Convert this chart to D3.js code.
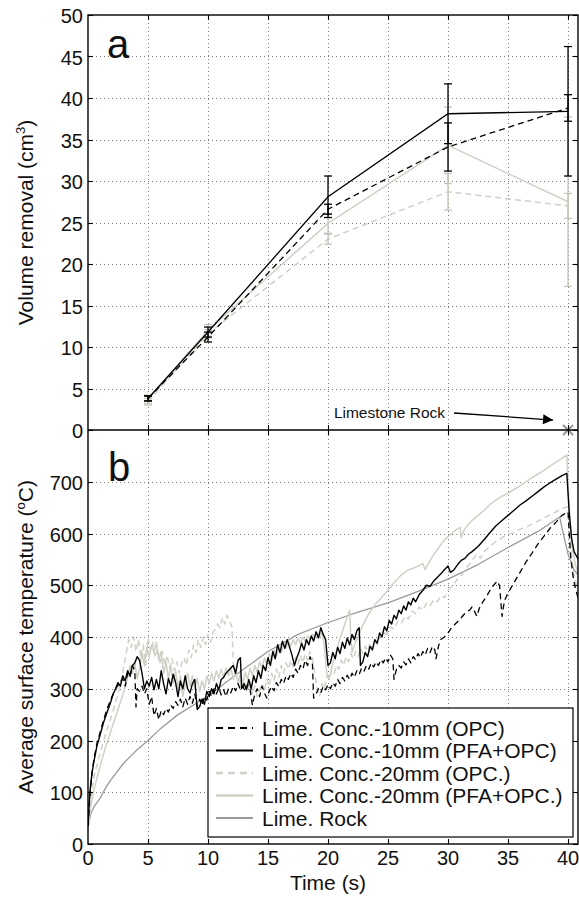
<!DOCTYPE html>
<html>
<head>
<meta charset="utf-8">
<script src="https://cdn.jsdelivr.net/npm/d3@7/dist/d3.min.js"></script>
<style>
    body { margin: 0; background: #fff; }
    svg text { font-family: "Liberation Sans", Arial, Helvetica, sans-serif; fill: #111; }
</style>
</head>
<body>
<div id="chart"></div>
<script>
    // ---- panel a : volume removal at the sampled times ----
    var timesA = [5, 10, 20, 30, 40];
    var volOPC10 = [3.8, 11.2, 26.6, 34.1, 38.8];
    var errOPC10 = [0.3, 0.6, 0.6, 2.9, 1.6];
    var volPFA10 = [3.8, 11.8, 28.1, 38.1, 38.4];
    var errPFA10 = [0.3, 0.6, 2.5, 3.6, 7.8];
    var volOPC20 = [3.4, 11.6, 23.0, 28.7, 27.0];
    var errOPC20 = [0.4, 0.5, 0.6, 2.2, 1.5];
    var volPFA20 = [3.7, 12.0, 24.9, 34.3, 27.5];
    var errPFA20 = [0.5, 0.7, 1.2, 4.6, 10.2];
    var rockPoint = [40, 0];

    // ---- panel b : surface temperature traces [time, temp] ----
    var tempOPC10 = [[0,35],[0.15,90],[0.3,130],[0.5,165],[0.75,195],[1,215],[1.3,240],[1.6,262],[2,285],[2.3,300],[2.6,310],[2.9,320],
        [3.1,305],[3.3,330],[3.5,322],[3.7,345],[3.9,335],[4.0,265],[4.1,300],[4.3,295],[4.5,305],[4.7,290],[4.9,300],[5.1,270],[5.3,285],
        [5.5,248],[5.7,262],[5.9,240],[6.1,258],[6.3,250],[6.5,262],[6.7,255],[6.9,268],[7.1,262],[7.3,275],[7.5,268],[7.7,280],[7.9,265],
        [8.1,282],[8.3,270],[8.5,285],[8.7,272],[8.9,290],[9.1,265],[9.3,280],[9.5,268],[9.7,285],[9.9,278],[10.1,295],[10.3,285],[10.5,300],
        [10.7,290],[10.9,302],[11.1,288],[11.3,298],[11.5,285],[11.7,300],[11.9,292],[12.1,305],[12.3,296],[12.5,310],[12.7,298],[12.9,305],
        [13.1,295],[13.3,308],[13.5,300],[13.7,268],[13.9,290],[14.1,300],[14.3,285],[14.5,305],[14.7,292],[14.9,282],[15.1,295],[15.3,305],
        [15.5,296],[15.7,312],[15.9,304],[16.1,318],[16.3,310],[16.5,325],[16.7,318],[16.9,330],[17.1,322],[17.3,338],[17.5,330],[17.7,345],
        [17.9,338],[18.1,355],[18.3,345],[18.5,362],[18.7,350],[18.8,282],[19.0,290],[19.2,300],[19.4,292],[19.6,305],[19.8,298],[20.0,308],
        [20.2,300],[20.4,312],[20.6,305],[20.8,318],[21.0,310],[21.2,322],[21.4,315],[21.6,326],[21.8,318],[22.0,330],[22.2,322],[22.4,335],
        [22.6,328],[22.8,340],[23.0,334],[23.2,345],[23.4,338],[23.6,350],[23.8,342],[24.0,352],[24.2,345],[24.4,356],[24.6,350],[24.8,360],
        [25.0,352],[25.2,365],[25.4,358],[25.5,318],[25.7,338],[25.9,345],[26.1,340],[26.3,352],[26.5,346],[26.7,358],[26.9,350],[27.1,362],
        [27.3,356],[27.5,368],[27.7,360],[27.9,372],[28.1,365],[28.3,378],[28.5,370],[28.7,382],[28.9,375],[29.0,358],[29.2,382],[29.4,395],
        [29.7,400],[30.0,408],[30.3,418],[30.6,425],[30.9,432],[31.2,440],[31.5,448],[31.8,452],[32.0,458],[32.2,450],[32.4,440],[32.6,455],
        [32.9,468],[33.2,478],[33.5,490],[33.8,500],[34.1,508],[34.3,498],[34.5,440],[34.7,470],[35.0,485],[35.5,505],[36,525],[36.5,545],
        [37,562],[37.5,580],[38,595],[38.5,610],[39,622],[39.5,635],[40,642],[40.2,560],[40.4,520],[40.6,495],[40.9,470]];

    var tempPFA10 = [[0,35],[0.1,80],[0.2,110],[0.35,140],[0.5,160],[0.75,190],[1,210],[1.3,235],[1.6,255],[1.9,275],[2.1,290],[2.3,300],
        [2.5,312],[2.7,305],[2.9,325],[3.1,315],[3.3,335],[3.5,325],[3.7,345],[3.9,350],[4.1,362],[4.3,355],[4.5,330],[4.7,300],[4.9,315],
        [5.1,305],[5.3,322],[5.5,298],[5.7,318],[5.9,300],[6.1,335],[6.3,310],[6.5,290],[6.7,320],[6.9,305],[7.1,328],[7.3,312],[7.5,285],
        [7.7,315],[7.9,300],[8.1,325],[8.3,300],[8.5,292],[8.7,310],[8.9,318],[9.1,260],[9.3,265],[9.5,280],[9.7,270],[9.9,295],[10.1,285],
        [10.3,300],[10.5,290],[10.7,310],[10.9,298],[11.1,318],[11.3,322],[11.5,330],[11.7,335],[11.9,340],[12.1,345],[12.3,330],[12.5,355],
        [12.7,360],[12.8,300],[13.0,310],[13.2,298],[13.4,318],[13.6,300],[13.8,325],[14.0,312],[14.2,335],[14.4,320],[14.6,345],[14.8,335],
        [15.0,360],[15.2,345],[15.4,372],[15.6,358],[15.8,385],[16.0,370],[16.2,392],[16.4,378],[16.6,395],[16.8,380],[17.0,365],[17.2,345],
        [17.4,360],[17.6,372],[17.8,388],[18.0,375],[18.2,395],[18.4,385],[18.6,402],[18.8,392],[19.0,410],[19.2,398],[19.4,418],[19.6,405],
        [19.8,395],[20.0,345],[20.2,350],[20.4,370],[20.6,358],[20.8,380],[21.0,368],[21.2,390],[21.4,378],[21.6,398],[21.8,385],[22.0,405],
        [22.2,395],[22.4,412],[22.6,418],[22.7,345],[22.9,352],[23.1,370],[23.3,362],[23.5,382],[23.7,375],[23.9,395],[24.1,388],[24.3,408],
        [24.5,400],[24.7,420],[24.9,412],[25.1,432],[25.3,425],[25.5,442],[25.7,435],[25.9,452],[26.1,445],[26.3,460],[26.5,452],[26.7,468],
        [26.9,462],[27.1,475],[27.3,468],[27.6,482],[27.9,490],[28.2,500],[28.5,498],[28.8,508],[29.1,515],[29.4,522],[29.7,530],[30.0,537],
        [30.2,525],[30.5,530],[30.8,540],[31.1,548],[31.4,552],[31.7,560],[32,565],[32.5,575],[33,588],[33.5,602],[34,615],[34.5,625],
        [35,635],[35.5,645],[36,655],[36.5,663],[37,672],[37.5,681],[38,690],[38.5,698],[39,705],[39.5,712],[39.9,716],[40.1,640],[40.3,590],
        [40.5,565],[40.9,548]];

    var tempOPC20 = [[0,30],[0.2,85],[0.5,130],[1,175],[1.5,215],[2,250],[2.5,290],[2.8,320],[3.0,345],[3.2,370],[3.4,395],[3.6,380],
        [3.8,400],[4.0,372],[4.2,395],[4.4,360],[4.6,385],[4.8,345],[5.0,400],[5.2,375],[5.4,390],[5.6,360],[5.8,378],[6.0,350],[6.2,372],
        [6.4,345],[6.6,365],[6.8,340],[7.0,358],[7.2,335],[7.4,352],[7.6,330],[7.8,348],[8.0,360],[8.2,345],[8.4,375],[8.6,360],[8.8,385],
        [9.0,370],[9.2,395],[9.4,380],[9.6,400],[9.8,385],[10.0,405],[10.2,390],[10.4,408],[10.6,415],[10.8,425],[11.0,418],[11.2,438],
        [11.4,425],[11.6,442],[11.8,430],[12.0,420],[12.1,350],[12.3,330],[12.5,310],[12.7,320],[12.9,300],[13.1,315],[13.3,295],[13.5,310],
        [13.7,290],[13.9,305],[14.1,285],[14.3,300],[14.5,310],[14.7,295],[14.9,320],[15.1,305],[15.3,330],[15.5,315],[15.7,338],[15.9,322],
        [16.1,345],[16.3,330],[16.5,350],[16.7,338],[16.9,355],[17.1,342],[17.3,360],[17.5,348],[17.7,365],[17.9,350],[18.1,368],[18.3,355],
        [18.5,372],[18.7,360],[18.9,330],[19.1,300],[19.3,285],[19.5,310],[19.7,300],[19.9,325],[20.1,318],[20.3,335],[20.5,328],[20.7,345],
        [20.9,338],[21.1,355],[21.3,345],[21.5,362],[21.7,352],[21.9,368],[22.1,358],[22.3,372],[22.5,362],[22.7,378],[22.9,368],[23.1,382],
        [23.3,372],[23.5,388],[23.7,378],[23.9,392],[24.1,385],[24.3,400],[24.6,410],[24.9,405],[25.2,420],[25.5,415],[25.8,430],[26.1,425],
        [26.4,440],[26.7,435],[27.0,450],[27.3,445],[27.6,458],[27.9,452],[28.2,465],[28.5,460],[28.8,472],[29.1,468],[29.4,480],[29.7,476],
        [30.0,490],[30.4,500],[30.8,512],[31.2,522],[31.6,535],[32,548],[32.4,560],[32.7,552],[33,565],[33.5,575],[34,585],[34.5,592],
        [35,598],[35.5,602],[36,608],[36.5,612],[37,618],[37.5,624],[38,630],[38.5,636],[39,642],[39.5,648],[40,652],[40.2,580],[40.4,530],
        [40.7,500],[40.9,490]];

    var tempPFA20 = [[0,28],[0.2,70],[0.5,105],[1,150],[1.5,190],[2,225],[2.5,260],[3,295],[3.3,320],[3.5,345],[3.7,330],[3.9,350],
        [4.1,320],[4.3,340],[4.5,370],[4.7,345],[4.9,380],[5.1,360],[5.3,385],[5.5,370],[5.7,390],[5.9,355],[6.1,372],[6.3,330],[6.5,350],
        [6.7,320],[6.9,345],[7.1,310],[7.3,335],[7.5,300],[7.7,325],[7.9,285],[8.1,310],[8.3,330],[8.5,305],[8.7,325],[8.9,300],[9.1,320],
        [9.3,295],[9.5,315],[9.7,300],[9.9,325],[10.1,310],[10.3,330],[10.5,315],[10.7,335],[10.9,320],[11.1,338],[11.3,322],[11.5,340],
        [11.7,325],[11.9,342],[12.1,318],[12.3,335],[12.5,312],[12.7,330],[12.9,310],[13.1,332],[13.3,318],[13.5,340],[13.7,325],[13.9,345],
        [14.1,332],[14.3,352],[14.5,340],[14.7,360],[14.9,348],[15.1,368],[15.3,355],[15.5,375],[15.7,362],[15.9,380],[16.1,370],[16.3,388],
        [16.5,378],[16.7,392],[16.9,382],[17.1,395],[17.3,385],[17.5,398],[17.7,388],[17.9,400],[18.1,392],[18.3,402],[18.5,395],[18.7,405],
        [18.9,398],[19.1,408],[19.3,400],[19.5,410],[19.7,380],[19.9,330],[20.1,318],[20.3,340],[20.6,365],[20.9,390],[21.2,410],[21.5,432],
        [21.8,452],[21.9,400],[22.0,370],[22.2,385],[22.5,400],[22.8,418],[23.1,432],[23.4,445],[23.7,455],[24.0,465],[24.3,472],[24.6,480],
        [24.9,488],[25.2,496],[25.5,505],[25.8,512],[26.1,520],[26.4,525],[26.7,530],[27.0,532],[27.3,535],[27.6,538],[27.9,542],[28.1,530],
        [28.3,540],[28.6,552],[28.9,562],[29.2,572],[29.5,582],[29.8,590],[30.1,596],[30.4,602],[30.7,608],[31.0,612],[31.1,592],[31.3,605],
        [31.6,615],[32,625],[32.5,635],[33,645],[33.5,656],[34,665],[34.5,672],[35,678],[35.5,685],[36,692],[36.5,700],[37,708],[37.5,715],
        [38,722],[38.5,730],[39,738],[39.5,745],[39.9,752],[40.1,650],[40.3,580],[40.6,540],[40.9,520]];

    var tempRock = [[0,33],[0.25,60],[0.5,72],[1,88],[1.5,110],[2,127],[3,157],[4,180],[5,200],[6,222],[7.5,250],[10,286],[12.5,330],
        [15,372],[17.5,405],[20,428],[22.5,448],[25,466],[27.5,488],[30,512],[32.5,540],[35,573],[37.5,604],[39.3,632],[39.6,600],[40,560],
        [40.5,530],[40.9,518]];

    // ---- ticks, labels, legend ----
    var timeTicks = [0, 5, 10, 15, 20, 25, 30, 35, 40];
    var volTicks = [0, 5, 10, 15, 20, 25, 30, 35, 40, 45, 50];
    var tempTicks = [0, 100, 200, 300, 400, 500, 600, 700];
    var legendLabels = ['Lime. Conc.-10mm (OPC)', 'Lime. Conc.-10mm (PFA+OPC)', 'Lime. Conc.-20mm (OPC.)',
        'Lime. Conc.-20mm (PFA+OPC.)', 'Lime. Rock'];

    var black = '#000';
    var pale = '#d0d0c6';
    var rockGrey = '#9a9a9a';

    drawChart();

    function drawChart() {
        var svg = d3.select('#chart').append('svg')
            .attr('width', 579)
            .attr('height', 898);

        var x = d3.scaleLinear().domain([0, 40.83]).range([88, 578]);
        var yA = d3.scaleLinear().domain([0, 50]).range([430, 15]);
        var yB = d3.scaleLinear().domain([0, 800]).range([844, 430]);

        svg.append('defs').append('clipPath').attr('id', 'clipB')
            .append('rect').attr('x', 88).attr('y', 430).attr('width', 490).attr('height', 414);
        svg.select('defs').append('marker')
            .attr('id', 'arrow').attr('viewBox', '0 0 10 10')
            .attr('refX', 10).attr('refY', 5)
            .attr('markerWidth', 13).attr('markerHeight', 10)
            .attr('markerUnits', 'userSpaceOnUse')
            .attr('orient', 'auto')
            .append('path').attr('d', 'M0,0L10,5L0,10Z').attr('fill', black);

        // grid lines (dotted, matlab style)
        var grid = svg.append('g').attr('stroke', '#7a7a7a').attr('stroke-width', 1).attr('stroke-dasharray', '1,3');
        grid.selectAll('.gxa').data(timeTicks.slice(1)).enter().append('line')
            .attr('x1', function (d) { return Math.round(x(d)) + 0.5; })
            .attr('x2', function (d) { return Math.round(x(d)) + 0.5; })
            .attr('y1', 15).attr('y2', 844);
        grid.selectAll('.gya').data(volTicks.slice(1, -1)).enter().append('line')
            .attr('x1', 88).attr('x2', 578)
            .attr('y1', function (d) { return Math.round(yA(d)) + 0.5; })
            .attr('y2', function (d) { return Math.round(yA(d)) + 0.5; });
        grid.selectAll('.gyb').data(tempTicks.slice(1)).enter().append('line')
            .attr('x1', 88).attr('x2', 578)
            .attr('y1', function (d) { return Math.round(yB(d)) + 0.5; })
            .attr('y2', function (d) { return Math.round(yB(d)) + 0.5; });

        // ---- panel a ----
        var seriesA = [
            {v: volOPC20, e: errOPC20, color: pale, dash: '6,4', w: 1.5},
            {v: volPFA20, e: errPFA20, color: pale, dash: null, w: 1.5},
            {v: volOPC10, e: errOPC10, color: black, dash: '6,4', w: 1.3},
            {v: volPFA10, e: errPFA10, color: black, dash: null, w: 1.3}
        ];
        var lineA = d3.line()
            .x(function (d, i) { return x(timesA[i]); })
            .y(function (d) { return yA(d); });

        seriesA.forEach(function (s) {
            svg.append('path').datum(s.v)
                .attr('d', lineA)
                .attr('fill', 'none')
                .attr('stroke', s.color)
                .attr('stroke-width', s.w)
                .attr('stroke-dasharray', s.dash);

            var eb = svg.append('g').attr('stroke', s.color === black ? black : '#c4c4ba').attr('stroke-width', 1.3);
            s.v.forEach(function (v, i) {
                var cx = x(timesA[i]);
                eb.append('line').attr('x1', cx).attr('x2', cx)
                    .attr('y1', yA(v - s.e[i])).attr('y2', yA(v + s.e[i]));
                [v - s.e[i], v + s.e[i]].forEach(function (c) {
                    eb.append('line').attr('x1', cx - 4).attr('x2', cx + 4)
                        .attr('y1', yA(c)).attr('y2', yA(c));
                });
            });
        });

        // limestone rock marker and annotation
        var rx = x(rockPoint[0]), ry = yA(rockPoint[1]);
        svg.append('path')
            .attr('d', 'M' + (rx - 5) + ',' + (ry - 5) + 'L' + (rx + 5) + ',' + (ry + 5) +
                'M' + (rx - 5) + ',' + (ry + 5) + 'L' + (rx + 5) + ',' + (ry - 5))
            .attr('stroke', rockGrey).attr('stroke-width', 2.2);
        svg.append('line')
            .attr('x1', x(30.5)).attr('y1', yA(2.05))
            .attr('x2', x(38.75)).attr('y2', yA(1.2))
            .attr('stroke', black).attr('stroke-width', 1.3)
            .attr('marker-end', 'url(#arrow)');
        svg.append('text')
            .attr('x', x(29.75)).attr('y', yA(1.45))
            .attr('text-anchor', 'end')
            .style('font-size', '15.5px')
            .text('Limestone Rock');

        // ---- panel b ----
        var seriesB = [
            {d: tempRock, color: rockGrey, dash: null, w: 1.3},
            {d: tempOPC20, color: pale, dash: '6,4', w: 1.5},
            {d: tempPFA20, color: pale, dash: null, w: 1.5},
            {d: tempOPC10, color: black, dash: '6,4', w: 1.3},
            {d: tempPFA10, color: black, dash: null, w: 1.4}
        ];
        var lineB = d3.line()
            .x(function (d) { return x(d[0]); })
            .y(function (d) { return yB(d[1]); });
        var gB = svg.append('g').attr('clip-path', 'url(#clipB)');
        seriesB.forEach(function (s) {
            gB.append('path').datum(s.d)
                .attr('d', lineB)
                .attr('fill', 'none')
                .attr('stroke', s.color)
                .attr('stroke-width', s.w)
                .attr('stroke-dasharray', s.dash)
                .attr('stroke-linejoin', 'round');
        });

        // ---- frames and ticks ----
        svg.append('rect').attr('x', 88).attr('y', 15).attr('width', 490).attr('height', 829)
            .attr('fill', 'none').attr('stroke', black).attr('stroke-width', 1.4);
        svg.append('line').attr('x1', 88).attr('x2', 578).attr('y1', 430).attr('y2', 430)
            .attr('stroke', black).attr('stroke-width', 1.4);

        var tk = svg.append('g').attr('stroke', black).attr('stroke-width', 1.1);
        timeTicks.slice(1).forEach(function (t) {
            var px = Math.round(x(t)) + 0.5;
            [[15, 20], [425, 435], [844, 839]].forEach(function (yy) {
                tk.append('line').attr('x1', px).attr('x2', px).attr('y1', yy[0]).attr('y2', yy[1]);
            });
        });
        volTicks.forEach(function (v) {
            var py = Math.round(yA(v)) + 0.5;
            tk.append('line').attr('x1', 88).attr('x2', 93).attr('y1', py).attr('y2', py);
            tk.append('line').attr('x1', 573).attr('x2', 578).attr('y1', py).attr('y2', py);
        });
        tempTicks.forEach(function (v) {
            var py = Math.round(yB(v)) + 0.5;
            tk.append('line').attr('x1', 88).attr('x2', 93).attr('y1', py).attr('y2', py);
            tk.append('line').attr('x1', 573).attr('x2', 578).attr('y1', py).attr('y2', py);
        });

        // tick labels
        svg.selectAll('.lva').data(volTicks).enter().append('text')
            .attr('x', 83).attr('y', function (d) { return yA(d) + 8; })
            .attr('text-anchor', 'end').style('font-size', '20px')
            .text(function (d) { return d; });
        svg.selectAll('.lvb').data(tempTicks).enter().append('text')
            .attr('x', 83).attr('y', function (d) { return yB(d) + 8; })
            .attr('text-anchor', 'end').style('font-size', '20px')
            .text(function (d) { return d; });
        svg.selectAll('.lt').data(timeTicks).enter().append('text')
            .attr('x', function (d) { return x(d); }).attr('y', 865)
            .attr('text-anchor', 'middle').style('font-size', '20px')
            .text(function (d) { return d; });

        // axis titles
        svg.append('text').attr('x', x(20)).attr('y', 890)
            .attr('text-anchor', 'middle').style('font-size', '21px').text('Time (s)');

        var ta = svg.append('text')
            .attr('transform', 'translate(33,' + yA(25) + ') rotate(-90)')
            .attr('text-anchor', 'middle').style('font-size', '21px');
        ta.append('tspan').text('Volume removal (cm');
        ta.append('tspan').attr('dy', -8).style('font-size', '13px').text('3');
        ta.append('tspan').attr('dy', 8).text(')');

        var tb = svg.append('text')
            .attr('transform', 'translate(33,' + yB(400) + ') rotate(-90)')
            .attr('text-anchor', 'middle').style('font-size', '21px');
        tb.append('tspan').text('Average surface temperature (');
        tb.append('tspan').attr('dy', -8).style('font-size', '13px').text('o');
        tb.append('tspan').attr('dy', 8).text('C)');

        // panel letters
        svg.append('text').attr('x', 107).attr('y', 58).style('font-size', '40px').text('a');
        svg.append('text').attr('x', 108).attr('y', 481).style('font-size', '40px').text('b');

        // ---- legend ----
        var lg = svg.append('g').attr('transform', 'translate(208,708)');
        lg.append('rect').attr('width', 365).attr('height', 129)
            .attr('fill', '#fff').attr('stroke', black).attr('stroke-width', 1.2);
        var legendStyles = [seriesB[3], seriesB[4], seriesB[1], seriesB[2], seriesB[0]];
        legendStyles.forEach(function (s, i) {
            var cy = 20 + i * 22.5;
            lg.append('line').attr('x1', 8).attr('x2', 45).attr('y1', cy).attr('y2', cy)
                .attr('stroke', s.color).attr('stroke-width', s.w + 0.8)
                .attr('stroke-dasharray', s.dash ? '7,5' : null);
            lg.append('text').attr('x', 54).attr('y', cy + 7.5)
                .style('font-size', '21px').text(legendLabels[i]);
        });
    }
</script>
</body>
</html>
